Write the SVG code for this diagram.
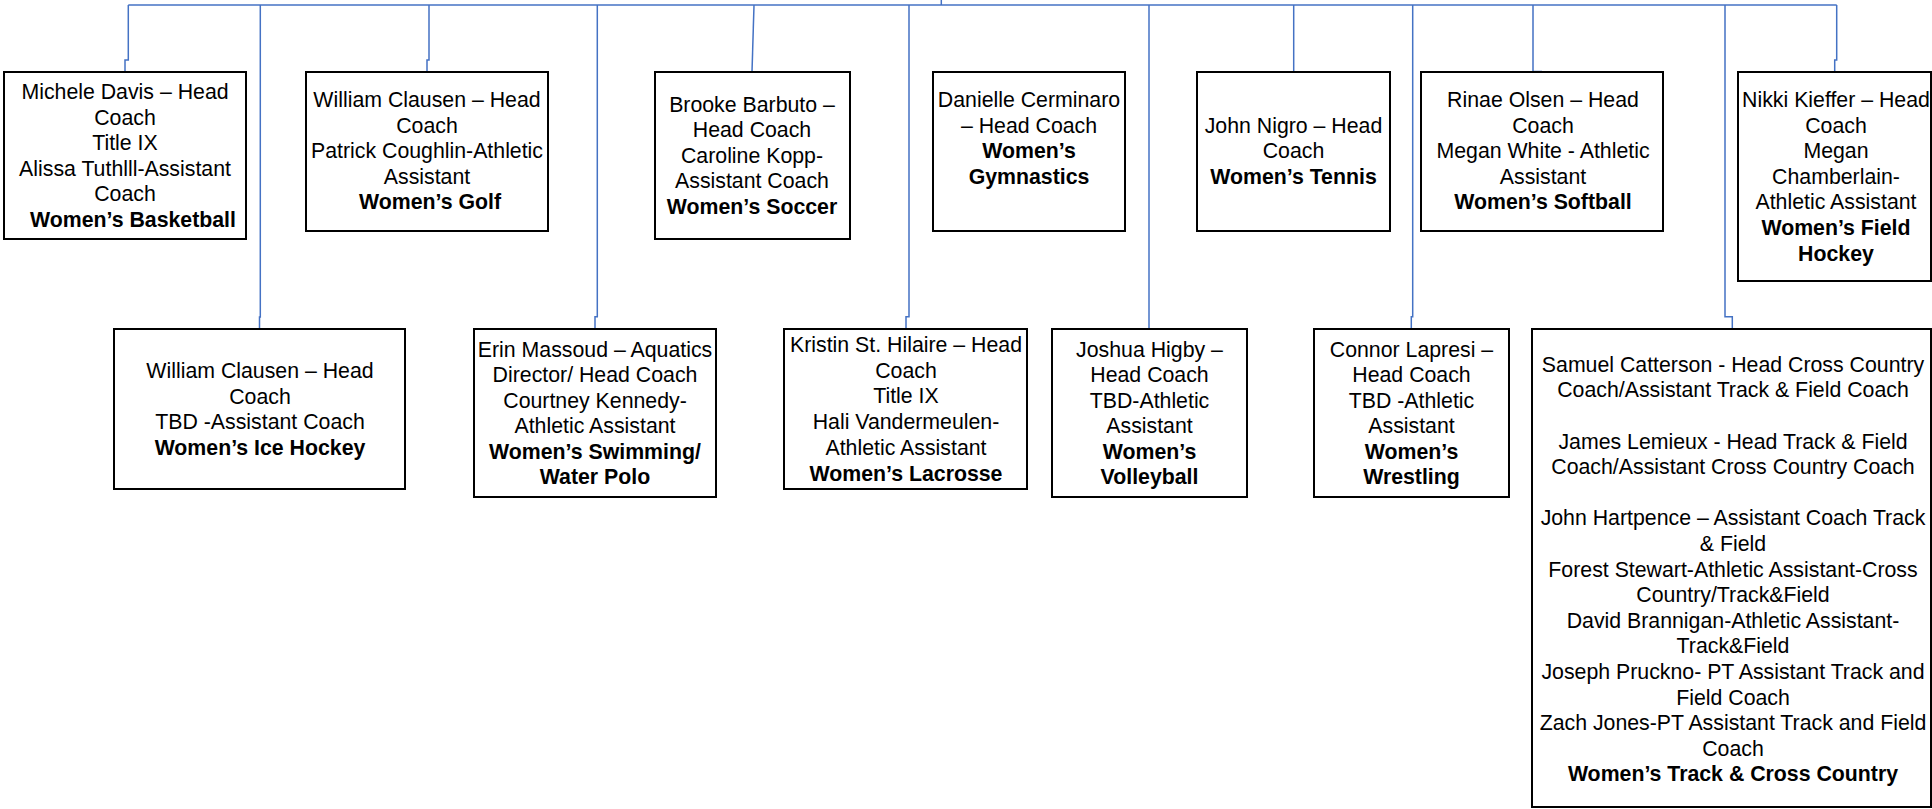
<svg xmlns="http://www.w3.org/2000/svg" width="1932" height="809" viewBox="0 0 1932 809">
<style>
.box{fill:#fff;stroke:#000;stroke-width:2}
.c{fill:none;stroke:#4472C4;stroke-width:1.5}
text{font-family:"Liberation Sans",Arial,sans-serif;font-size:21.3px;fill:#000;text-anchor:middle}
.b{font-weight:bold}
</style>
<rect width="1932" height="809" fill="#fff"/>
<g id="connectors">
<path class="c" d="M941.3,0 V5"/>
<path class="c" d="M128.3,5 H1836.7"/>
<path class="c" d="M128.3,5 V60 H125 V72"/>
<path class="c" d="M260.3,5 V317 H259.5 V329"/>
<path class="c" d="M429,5 V60 H427 V72"/>
<path class="c" d="M597.3,5 V316.7 H595 V329"/>
<path class="c" d="M754,5 L752,72"/>
<path class="c" d="M909,5 V316.7 H906 V329"/>
<path class="c" d="M1149,5 V329"/>
<path class="c" d="M1293.7,5 V72"/>
<path class="c" d="M1412.7,5 V316.7 H1411.3 V329"/>
<path class="c" d="M1533,5 V71.5 H1542"/>
<path class="c" d="M1725,5 V316.7 H1732.3 V329"/>
<path class="c" d="M1836.7,5 V60 H1834.7 V72"/>
</g>
<g id="basketball">
<rect class="box" x="4" y="72" width="242" height="167"/>
<text x="125" y="99">Michele Davis – Head</text>
<text x="125" y="124.5">Coach</text>
<text x="125" y="150">Title IX</text>
<text x="125" y="175.5">Alissa Tuthlll-Assistant</text>
<text x="125" y="201">Coach</text>
<text class="b" x="133" y="226.5">Women’s Basketball</text>
</g>
<g id="golf">
<rect class="box" x="306" y="72" width="242" height="159"/>
<text x="427" y="107.3">William Clausen – Head</text>
<text x="427" y="132.8">Coach</text>
<text x="427" y="158.3">Patrick Coughlin-Athletic</text>
<text x="427" y="183.8">Assistant</text>
<text class="b" x="430" y="209.3">Women’s Golf</text>
</g>
<g id="soccer">
<rect class="box" x="655" y="72" width="195" height="167"/>
<text x="752" y="111.7">Brooke Barbuto –</text>
<text x="752" y="137.2">Head Coach</text>
<text x="752" y="162.7">Caroline Kopp-</text>
<text x="752" y="188.2">Assistant Coach</text>
<text class="b" x="752" y="213.7">Women’s Soccer</text>
</g>
<g id="gymnastics">
<rect class="box" x="933" y="72" width="192" height="159"/>
<text x="1029" y="107.3">Danielle Cerminaro</text>
<text x="1029" y="132.8">– Head Coach</text>
<text class="b" x="1029" y="158.3">Women’s</text>
<text class="b" x="1029" y="183.8">Gymnastics</text>
</g>
<g id="tennis">
<rect class="box" x="1197" y="72" width="193" height="159"/>
<text x="1293.5" y="132.8">John Nigro – Head</text>
<text x="1293.5" y="158.3">Coach</text>
<text class="b" x="1293.5" y="183.8">Women’s Tennis</text>
</g>
<g id="softball">
<rect class="box" x="1421" y="72" width="242" height="159"/>
<text x="1543" y="107.3">Rinae Olsen – Head</text>
<text x="1543" y="132.8">Coach</text>
<text x="1543" y="158.3">Megan White - Athletic</text>
<text x="1543" y="183.8">Assistant</text>
<text class="b" x="1543" y="209.3">Women’s Softball</text>
</g>
<g id="fieldhockey">
<rect class="box" x="1738" y="72" width="193" height="209"/>
<text x="1836" y="107">Nikki Kieffer – Head</text>
<text x="1836" y="132.6">Coach</text>
<text x="1836" y="158.2">Megan</text>
<text x="1836" y="183.8">Chamberlain-</text>
<text x="1836" y="209.4">Athletic Assistant</text>
<text class="b" x="1836" y="235">Women’s Field</text>
<text class="b" x="1836" y="260.6">Hockey</text>
</g>
<g id="icehockey">
<rect class="box" x="114" y="329" width="291" height="160"/>
<text x="260" y="378.3">William Clausen – Head</text>
<text x="260" y="403.8">Coach</text>
<text x="260" y="429.3">TBD -Assistant Coach</text>
<text class="b" x="260" y="454.8">Women’s Ice Hockey</text>
</g>
<g id="swimming">
<rect class="box" x="474" y="329" width="242" height="168"/>
<text x="595" y="356.7">Erin Massoud – Aquatics</text>
<text x="595" y="382.2">Director/ Head Coach</text>
<text x="595" y="407.7">Courtney Kennedy-</text>
<text x="595" y="433.2">Athletic Assistant</text>
<text class="b" x="595" y="458.7">Women’s Swimming/</text>
<text class="b" x="595" y="484.2">Water Polo</text>
</g>
<g id="lacrosse">
<rect class="box" x="784" y="329" width="243" height="160"/>
<text x="906" y="351.7">Kristin St. Hilaire – Head</text>
<text x="906" y="377.5">Coach</text>
<text x="906" y="403.3">Title IX</text>
<text x="906" y="429">Hali Vandermeulen-</text>
<text x="906" y="454.7">Athletic Assistant</text>
<text class="b" x="906" y="480.5">Women’s Lacrosse</text>
</g>
<g id="volleyball">
<rect class="box" x="1052" y="329" width="195" height="168"/>
<text x="1149.5" y="356.7">Joshua Higby –</text>
<text x="1149.5" y="382.2">Head Coach</text>
<text x="1149.5" y="407.7">TBD-Athletic</text>
<text x="1149.5" y="433.2">Assistant</text>
<text class="b" x="1149.5" y="458.7">Women’s</text>
<text class="b" x="1149.5" y="484.2">Volleyball</text>
</g>
<g id="wrestling">
<rect class="box" x="1314" y="329" width="195" height="168"/>
<text x="1411.5" y="356.7">Connor Lapresi –</text>
<text x="1411.5" y="382.2">Head Coach</text>
<text x="1411.5" y="407.7">TBD -Athletic</text>
<text x="1411.5" y="433.2">Assistant</text>
<text class="b" x="1411.5" y="458.7">Women’s</text>
<text class="b" x="1411.5" y="484.2">Wrestling</text>
</g>
<g id="track">
<rect class="box" x="1532" y="329" width="399" height="478"/>
<text x="1733" y="371.7">Samuel Catterson - Head Cross Country</text>
<text x="1733" y="397.3">Coach/Assistant Track &amp; Field Coach</text>
<text x="1733" y="448.5">James Lemieux - Head Track &amp; Field</text>
<text x="1733" y="474.1">Coach/Assistant Cross Country Coach</text>
<text x="1733" y="525.3">John Hartpence – Assistant Coach Track</text>
<text x="1733" y="550.9">&amp; Field</text>
<text x="1733" y="576.5">Forest Stewart-Athletic Assistant-Cross</text>
<text x="1733" y="602.1">Country/Track&amp;Field</text>
<text x="1733" y="627.7">David Brannigan-Athletic Assistant-</text>
<text x="1733" y="653.3">Track&amp;Field</text>
<text x="1733" y="678.9">Joseph Pruckno- PT Assistant Track and</text>
<text x="1733" y="704.5">Field Coach</text>
<text x="1733" y="730.1">Zach Jones-PT Assistant Track and Field</text>
<text x="1733" y="755.7">Coach</text>
<text class="b" x="1733" y="781.3">Women’s Track &amp; Cross Country</text>
</g>
</svg>
